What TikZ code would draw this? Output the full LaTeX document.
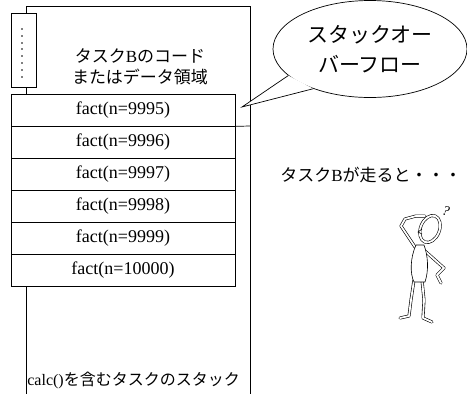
\documentclass[tikz,border=0pt]{standalone}
\usepackage{fontspec}
\setmainfont{Liberation Serif}
\newfontfamily\jp{Noto Sans CJK JP}
\usetikzlibrary{shapes.geometric}

\tikzset{
  frame/.style={draw, fill=white, minimum width=224pt, minimum height=32pt, inner sep=0pt,
    font=\fontsize{18}{20}\selectfont},
  limb/.style={line width=0.6pt, double=white, double distance=1.8pt, line cap=round, line join=round}
}

\begin{document}
\begin{tikzpicture}[x=1pt,y=-1pt,line width=0.7pt]
\useasboundingbox (0,0) rectangle (467,394);

% outline of the task stack
\coordinate (tl) at (26,6);
\coordinate (tr) at (250,6);
\coordinate (bl) at (26,394);
\coordinate (br) at (250,394);
\draw[color=black] (bl) -- (tl) -- (tr) -- (br);

% code / data area
\node[draw, fill=white, minimum width=25pt, minimum height=74pt, inner sep=0pt] (dots) at (23.5,50) {};
\fill [color=black] (22,29) circle (0.9pt);
\fill [color=black] (22,36) circle (0.9pt);
\fill [color=black] (22,43) circle (0.9pt);
\fill [color=black] (22,49) circle (0.9pt);
\fill [color=black] (22,56) circle (0.9pt);
\fill [color=black] (22,63) circle (0.9pt);
\fill [color=black] (22,70) circle (0.9pt);
\fill [color=black] (22,77) circle (0.9pt);
\node[align=center, font=\fontsize{17}{21}\selectfont] (code) at (140,67)
  {{\jp タスク}B{\jp のコード}\\{\jp またはデータ領域}};

% stack frames
\node[frame] (f9995) at (123,110) {fact(n=9995)};
\node[frame] (f9996) at (123,142) {fact(n=9996)};
\node[frame] (f9997) at (123,174) {fact(n=9997)};
\node[frame] (f9998) at (123,206) {fact(n=9998)};
\node[frame] (f9999) at (123,238) {fact(n=9999)};
\node[frame] (f10000) at (123,270) {fact(n=10000)};
\coordinate (limit) at (250,126);
\draw[color=black] (f9995.south east) -- (limit);

\node[anchor=west, inner sep=0pt, font=\fontsize{16}{18}\selectfont] (stack) at (27,380)
  {calc(){\jp を含むタスクのスタック}};

% speech bubble
\node[ellipse, draw, minimum width=194pt, minimum height=97pt, inner sep=0pt, align=center,
  font=\jp\fontsize{21}{30}\selectfont] (bubble) at (370,49) {スタックオー\\バーフロー};
\coordinate (tip) at (242,107);
\fill[color=white] (bubble.198) -- (tip) -- (bubble.215) -- cycle;
\draw[color=black] (bubble.198) -- (tip) -- (bubble.215);

\node[font=\fontsize{17}{20}\selectfont] (runs) at (371,175)
  {{\jp タスク}B{\jp が走ると・・・}};

% puzzled man
\draw[limb] (415,247) -- (401,226) -- (405,219) -- (416,216) -- (425,216);
\draw[limb, fill=white] (430,229) ellipse [x radius=9.5, y radius=14, rotate=-22];
\draw[color=black, line width=0.6pt] (422,229) -- (418,232) -- (422,234);
\draw[limb] (425,251) -- (444,268) -- (437,275) -- (441,283);
\draw[limb] (414,280) -- (411,300) -- (409,316) -- (400,318);
\draw[limb] (422,280) -- (424,300) -- (423,318) -- (432,322);
\draw[color=black, line width=0.6pt, fill=white] (416,245) .. controls (410,258) and (410,274) .. (414,282)
  -- (425,282) .. controls (429,270) and (428,256) .. (424,245) -- cycle;
\node[font=\fontsize{14}{16}\selectfont\itshape, rotate=-15] (huh) at (446,211) {?};
\end{tikzpicture}
\end{document}
